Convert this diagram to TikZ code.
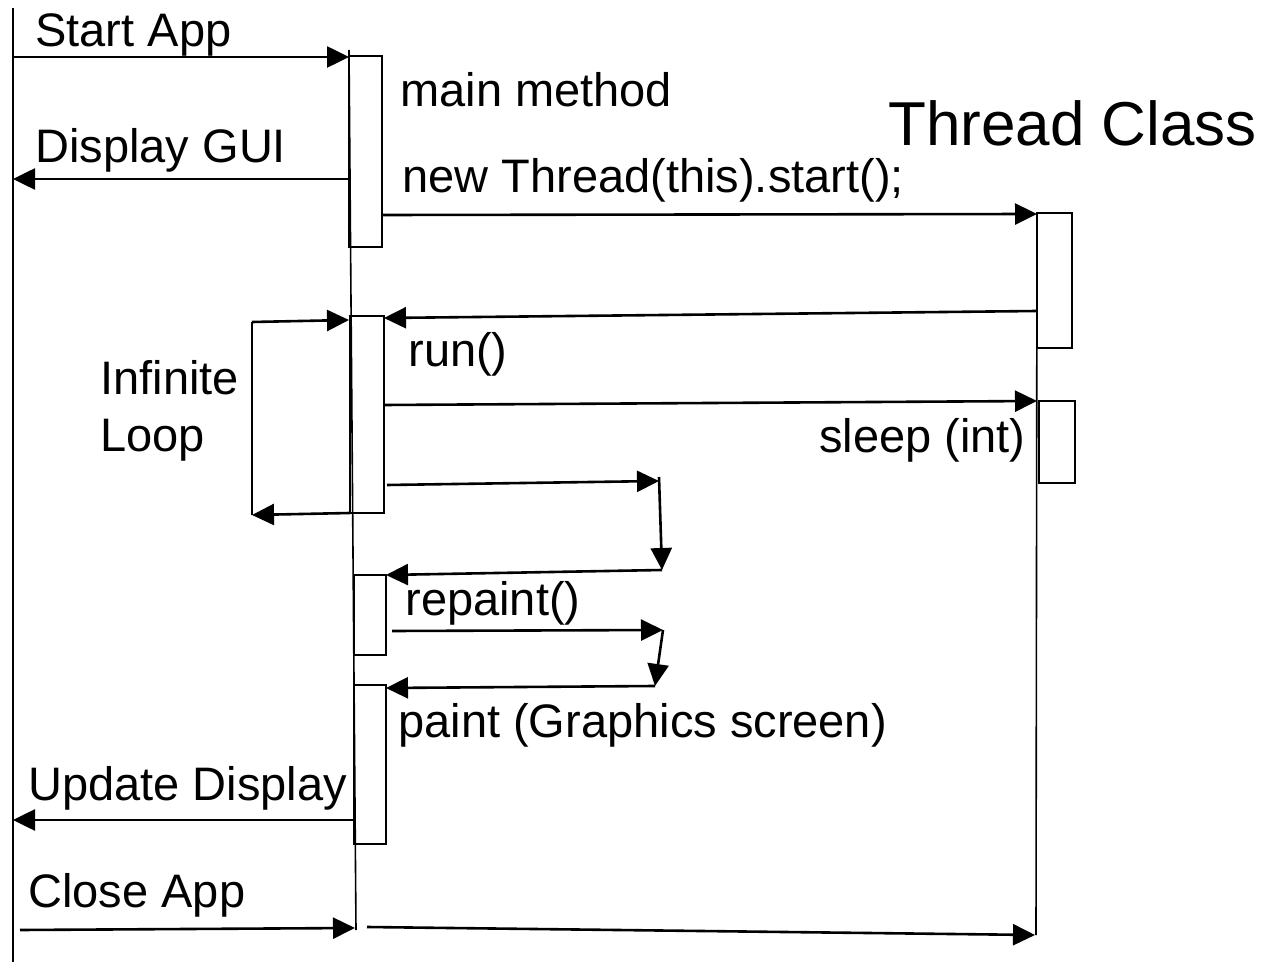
\documentclass[tikz,border=0pt]{standalone}
\usepackage{fontspec}
\setmainfont{Liberation Sans}
\usetikzlibrary{arrows.meta}

\begin{document}
\begin{tikzpicture}[x=0.5pt,y=-0.5pt,
    msg/.style={-{Triangle[length=11pt,width=10.5pt]}, line width=1.3pt},
    life/.style={line width=0.8pt},
    actbox/.style={line width=0.8pt},
    lbl/.style={anchor=base west, inner sep=0pt, font=\fontsize{23.5}{28.5}\selectfont}]
    \useasboundingbox (0,0) rectangle (1264,962);

    % Lifelines
    \coordinate (appTop) at (13,8);
    \coordinate (appBot) at (13,962);
    \coordinate (mainTop) at (349,50);
    \coordinate (mainBot) at (356,930);
    \coordinate (thrTop) at (1037,213);
    \coordinate (thrBot) at (1036,935);
    \draw[life] (appTop) -- (appBot);
    \draw[life] (mainTop) -- (mainBot);
    \draw[life] (thrTop) -- (thrBot);

    % Activation boxes
    \draw[actbox] (349,56) rectangle (382,247);
    \draw[actbox] (350,316) rectangle (384,513);
    \draw[actbox] (354,575) rectangle (386,655);
    \draw[actbox] (354,685) rectangle (386,844);
    \draw[actbox] (1037,213) rectangle (1072,348);
    \draw[actbox] (1039,401) rectangle (1075,483);

    % Labels
    \node[lbl] (start) at (35,47) {Start App};
    \node[lbl] (gui) at (35,163) {Display GUI};
    \node[lbl] (mainm) at (400,107) {main method};
    \node[lbl, font=\fontsize{31}{36}\selectfont] (thread) at (888,146) {Thread Class};
    \node[lbl] (newthr) at (402,193) {new Thread(this).start();};
    \node[lbl] (run) at (408,367) {run()};
    \node[lbl, align=left] (loop) at (100,452) {Infinite\\Loop};
    \node[lbl, anchor=base east] (sleep) at (1026,453) {sleep (int)};
    \node[lbl] (repaint) at (405,615) {repaint()};
    \node[lbl] (paint) at (398,737) {paint (Graphics screen)};
    \node[lbl] (update) at (28,800) {Update Display};
    \node[lbl] (close) at (28,907) {Close App};

    % Messages
    \coordinate (s1) at (13,57);    \coordinate (s2) at (349,57);
    \coordinate (g1) at (349,179);  \coordinate (g2) at (13,179);
    \coordinate (n1) at (382,215);  \coordinate (n2) at (1037,214);
    \coordinate (r1) at (1037,311); \coordinate (r2) at (384,318);
    \coordinate (lb1) at (350,513); \coordinate (lb2) at (252,515);
    \coordinate (lt1) at (252,322); \coordinate (lt2) at (349,320);
    \coordinate (z1) at (384,405);  \coordinate (z2) at (1037,401);
    \coordinate (a1) at (387,485);  \coordinate (a2) at (659,481);
    \coordinate (a0) at (659,477);  \coordinate (a3) at (662,570);
    \coordinate (a4) at (386,575);
    \coordinate (p1) at (392,631);  \coordinate (p2) at (663,630);
    \coordinate (p3) at (655,686);  \coordinate (p4) at (386,688);
    \coordinate (u1) at (353,820);  \coordinate (u2) at (13,820);
    \coordinate (c1) at (20,930);   \coordinate (c2) at (355,928);
    \coordinate (c3) at (367,927);  \coordinate (c4) at (1035,935);

    \draw[msg] (s1) -- (s2);
    \draw[msg] (g1) -- (g2);
    \draw[msg] (n1) -- (n2);
    \draw[msg] (r1) -- (r2);
    \draw[msg] (lb1) -- (lb2);
    \draw[line width=1.3pt] (lb2) -- (lt1);
    \draw[msg] (lt1) -- (lt2);
    \draw[msg] (z1) -- (z2);
    \draw[msg] (a1) -- (a2);
    \draw[msg] (a0) -- (a3);
    \draw[msg] (a3) -- (a4);
    \draw[msg] (p1) -- (p2);
    \draw[msg] (p2) -- (p3);
    \draw[msg] (p3) -- (p4);
    \draw[msg] (u1) -- (u2);
    \draw[msg] (c1) -- (c2);
    \draw[msg] (c3) -- (c4);
\end{tikzpicture}
\end{document}
